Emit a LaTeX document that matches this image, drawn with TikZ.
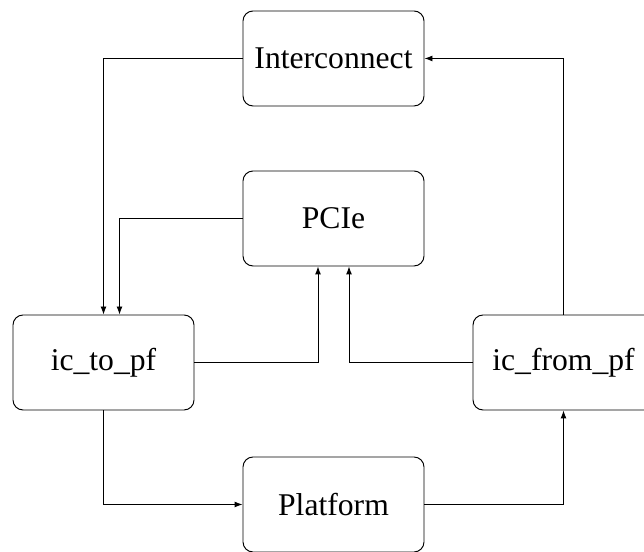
\documentclass[tikz,border=0pt]{standalone}
\usepackage{fontspec}
\setmainfont{Liberation Serif}
\usetikzlibrary{arrows.meta}

\begin{document}
\begin{tikzpicture}[>={Latex[length=1.6mm,width=1.2mm]}, line width=0.55pt]
	\tikzstyle{every node}=[align=center, inner sep=1pt]
	\tikzstyle{block}=[draw, rounded corners=0.2cm, minimum width=3.62cm, minimum height=1.9cm, font=\fontsize{18}{22}\selectfont]
	\useasboundingbox (0,0) rectangle (12.88,11.04);

	\node[block] (IC) at (6.67, 9.87) {Interconnect};
	\node[block] (PCIe) at (6.67, 6.67) {PCIe};
	\node[block] (ToPF) at (2.07, 3.79) {ic\_to\_pf};
	\node[block] (FromPF) at (11.27, 3.79) {ic\_from\_pf};
	\node[block] (PF) at (6.67, 0.95) {Platform};

	\draw[->] (IC) -| (ToPF);
	\draw[->] (PCIe) -| ([xshift=0.32cm]ToPF.north);
	\draw[->] (ToPF) -| ([xshift=-0.31cm]PCIe.south);
	\draw[->] (FromPF) -| ([xshift=0.31cm]PCIe.south);
	\draw[->] (FromPF) |- (IC);
	\draw[->] (ToPF) |- (PF);
	\draw[->] (PF) -| (FromPF);
\end{tikzpicture}
\end{document}
